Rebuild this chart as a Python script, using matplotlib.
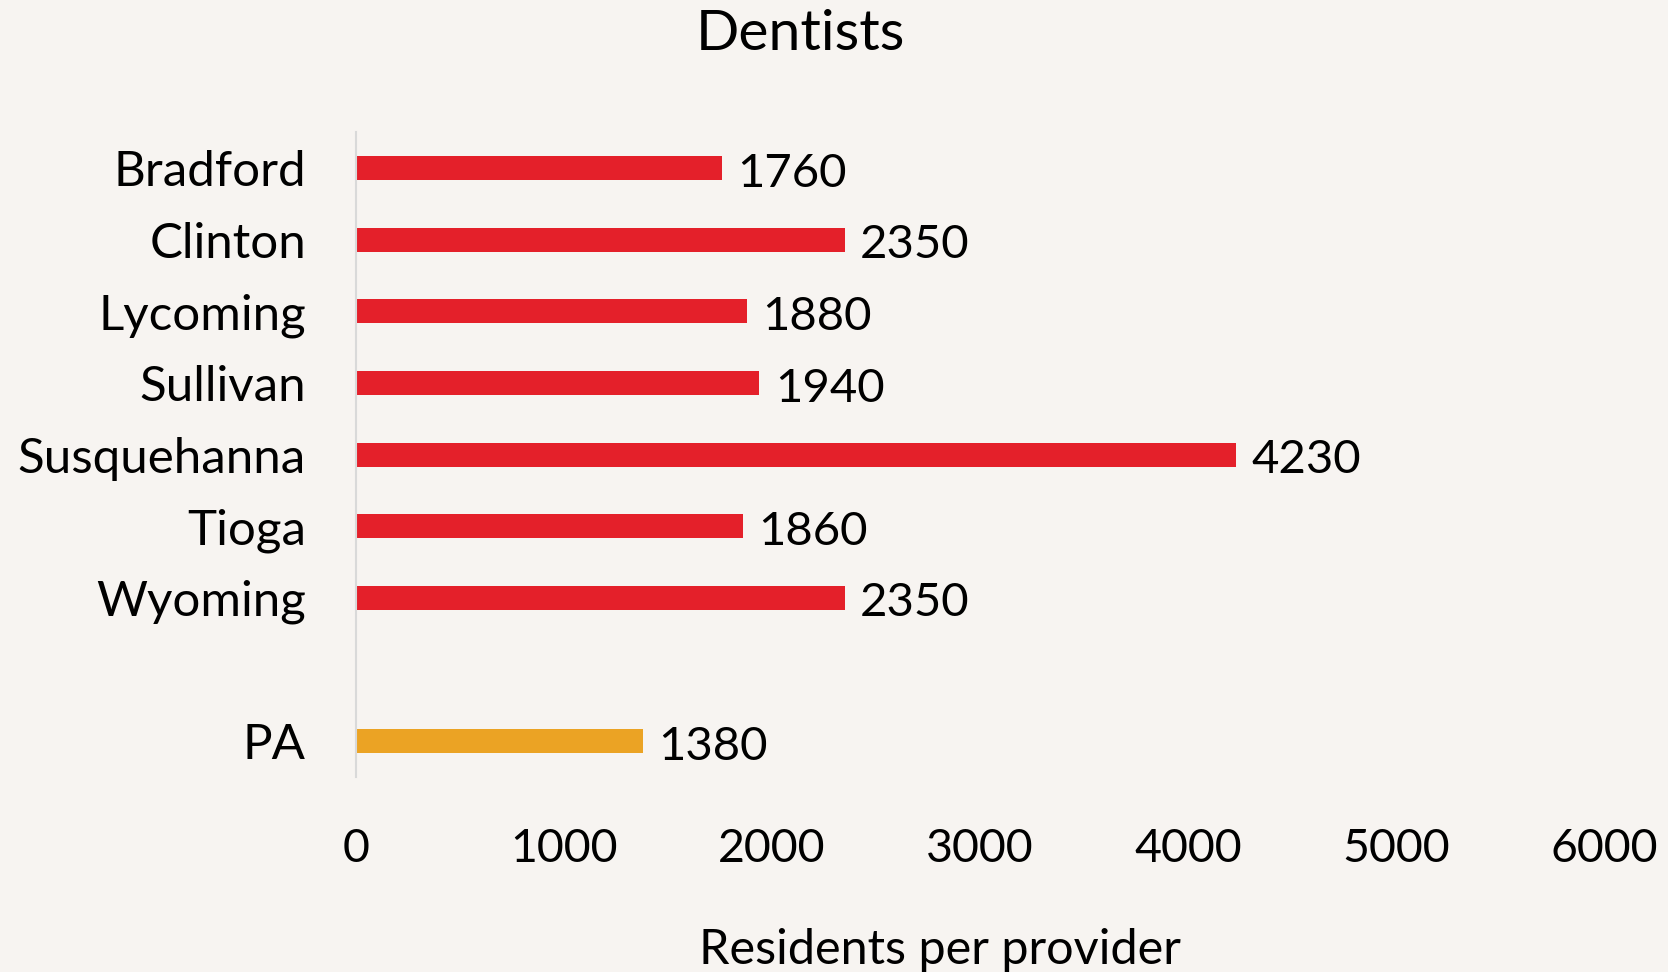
import matplotlib.pyplot as plt

counties = ["Bradford", "Clinton", "Lycoming", "Sullivan", "Susquehanna", "Tioga", "Wyoming"]
county_values = [1760, 2350, 1880, 1940, 4230, 1860, 2350]
state_label = "PA"
state_value = 1380
xticks = [0, 1000, 2000, 3000, 4000, 5000, 6000]

BG = "#F7F4F1"
RED = "#E4202A"
ORANGE = "#EBA324"

plt.rcParams['font.family'] = ['Lato', 'DejaVu Sans']

fig = plt.figure(figsize=(16.68, 9.72), dpi=100, facecolor=BG)
ax = fig.add_axes([0.2134, 0.2006, 0.9616 - 0.2134, 0.864 - 0.2006])
ax.set_facecolor(BG)

# county bars at top, blank slot, then PA
ypos = list(range(len(counties)))
pa_pos = len(counties) + 1
h = 0.335
ax.barh(ypos, county_values, height=h, color=RED)
ax.barh([pa_pos], [state_value], height=h, color=ORANGE)

for y, v in zip(ypos + [pa_pos], county_values + [state_value]):
    ax.annotate(str(v), (v, y), xytext=(11, -4), textcoords='offset points',
                va='center', ha='left', fontsize=34)

ax.set_ylim(pa_pos + 0.5, -0.5)
ax.set_xlim(0, 6000)
ax.set_yticks(ypos + [pa_pos])
ax.set_yticklabels(counties + [state_label])
ax.set_xticks(xticks)
ax.set_xticklabels([str(t) for t in xticks])
ax.tick_params(axis='x', length=0, pad=37, labelsize=33.5)
ax.tick_params(axis='y', length=0, pad=36, labelsize=35.5)

for s in ['top', 'right', 'bottom']:
    ax.spines[s].set_visible(False)
ax.spines['left'].set_color('#D9D9D9')
ax.spines['left'].set_linewidth(1.5)

fig.text(800 / 1668, 1 - 35 / 972, "Dentists", ha='center', va='center', fontsize=41)
fig.text(940 / 1668, 1 - 950 / 972, "Residents per provider", ha='center', va='center', fontsize=35)

fig.savefig("out.png", dpi=100, facecolor=BG)
